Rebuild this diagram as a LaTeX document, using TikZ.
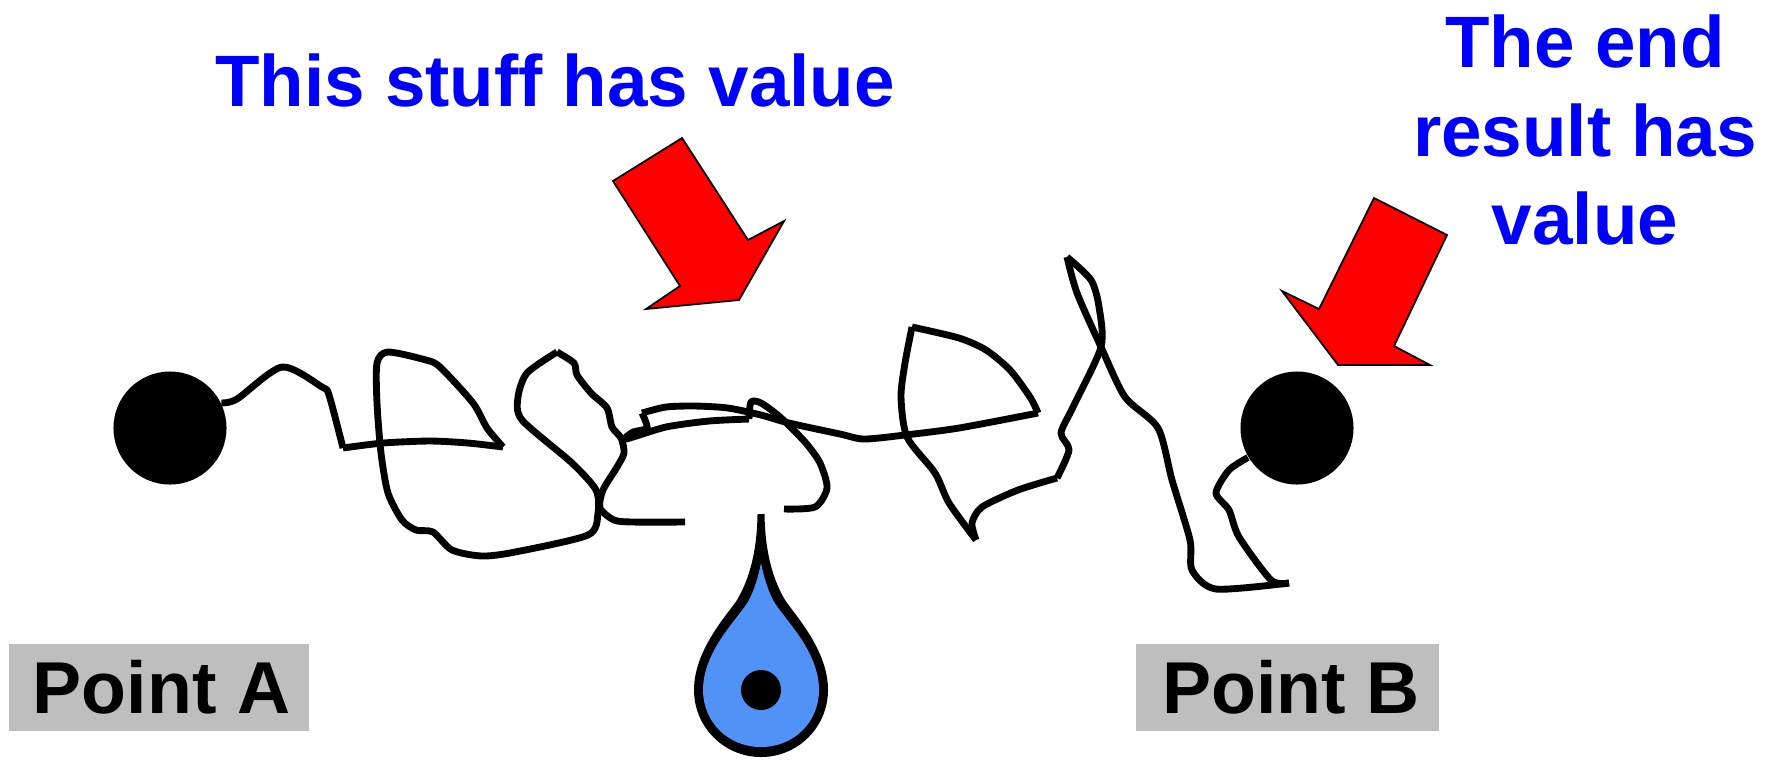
\documentclass[tikz,border=0pt]{standalone}
\usepackage{fontspec}
\setmainfont{Liberation Sans}
\usetikzlibrary{positioning}
\definecolor{dropblue}{HTML}{5092F6}
\definecolor{labelgrey}{HTML}{BEBEBE}
\definecolor{calloutblue}{HTML}{0000FF}

\begin{document}
\begin{tikzpicture}[x=0.01cm,y=-0.01cm,
 ball/.style={circle,fill=black,inner sep=0pt,minimum size=1.13cm},
 callout/.style={text=calloutblue,align=center,inner sep=0pt,font=\fontsize{20.7}{25.2}\selectfont\bfseries},
 ptlabel/.style={fill=labelgrey,text=black,inner sep=0pt,minimum height=0.87cm,font=\fontsize{20.9}{25}\selectfont\bfseries},
 redarrow/.style={draw=black,fill=red,line width=0.5pt,line join=miter},
 wire/.style={draw=black,line width=1.95pt,line join=round,line cap=butt}]
\useasboundingbox (0,0) rectangle (1777,759);
\node[ball] (pointa) at (170,428) {};
\node[ball] (pointb) at (1297,428) {};
\node[callout] (stuff) at (555,80) {This stuff has value};
\node[callout] (endresult) at (1585,130) {The end\\result has\\value};
\node[ptlabel,minimum width=3.0cm] (labela) at (159,687.5) {\hspace{0.5mm}Point A};
\node[ptlabel,minimum width=3.03cm] (labelb) at (1287.5,687.5) {\hspace{0.7mm}Point B};
% red arrows
\draw[redarrow] (682,138)--(748,240)--(784,221)--(739,300)--(646,309)--(680,286)--(613,181)--cycle;
\draw[redarrow] (1374,198)--(1447,235)--(1394,346)--(1430,365)--(1338,365)--(1282,291)--(1319,309)--cycle;
% wire, point A up to the gap
\draw[wire] plot[smooth,tension=0.45] coordinates {(pointa.26) (237,399) (282,367) (322,387) (329,395) (343,448)};
\draw[wire] plot[smooth,tension=0.45] coordinates {(343,448) (383,443) (430,441) (468,443) (503,447)};
\draw[wire] plot[smooth,tension=0.45] coordinates {(503,447) (487,428) (473,403) (440,367) (426,360) (388,352) (377,363) (377,403) (381,453) (388,493) (402,520) (416,530) (433,532) (452,550) (482,556) (515,552) (588,535) (598,513) (596,490) (572,463) (522,420) (518,397) (527,373) (557,352)};
\draw[wire] plot[smooth,tension=0.45] coordinates {(557,352) (574,363) (577,375) (591,393) (607,408) (612,427) (621,438) (624,453) (617,467) (603,490) (600,508) (614,520) (633,522) (685,522)};
% wire, gap up to point B
\draw[wire] plot[smooth,tension=0.45] coordinates {(784,509) (815,507) (827,488) (820,463) (805,442) (780,417) (761,403) (751,402) (749,419)};
\draw[wire] plot[smooth,tension=0.45] coordinates {(749,419) (709,421) (666,427) (626,439) (633,432) (647,428) (642,413)};
\draw[wire] plot[smooth,tension=0.45] coordinates {(642,413) (666,407) (695,406) (728,408) (761,415) (789,423) (840,434) (864,439) (905,435) (959,428) (1038,413)};
\draw[wire] plot[smooth,tension=0.45] coordinates {(1038,413) (1030,397) (1010,370) (986,350) (959,338) (912,327)};
\draw[wire] plot[smooth,tension=0.45] coordinates {(912,327) (905,363) (901,397) (907,437) (935,473) (949,503) (976,540)};
\draw[wire] plot[smooth,tension=0.45] coordinates {(976,540) (972,523) (982,507) (1018,490) (1057,478)};
\draw[wire] plot[smooth,tension=0.45] coordinates {(1057,478) (1069,450) (1061,433) (1073,407) (1101,347) (1099,307) (1091,280) (1067,257)};
\draw[wire] plot[smooth,tension=0.45] coordinates {(1067,257) (1077,293) (1101,347) (1125,397) (1158,428) (1172,480) (1190,540) (1192,570) (1216,589) (1289,583)};
\draw[wire] plot[smooth,tension=0.45] coordinates {(1289,583) (1271,580) (1239,537) (1229,510) (1216,493) (1229,470) (pointb.211)};
% the drop
\fill[black] (757.5,514) -- (764.5,514) .. controls (765,550) and (772,578) .. (785,600) .. controls (795,615) and (828,650) .. (828,690) .. controls (828,727) and (798,757) .. (761,757) .. controls (724,757) and (694,727) .. (694,690) .. controls (694,650) and (727,615) .. (737,600) .. controls (750,578) and (757,550) .. (757.5,514) -- cycle;
\fill[dropblue] (761,563) .. controls (764,578) and (768,590) .. (773,600) .. controls (783,618) and (819,650) .. (819,690) .. controls (819,722) and (794,747) .. (761,747) .. controls (728,747) and (703,722) .. (703,690) .. controls (703,650) and (739,618) .. (749,600) .. controls (754,590) and (758,578) .. (761,563) -- cycle;
\node[circle,fill=black,inner sep=0pt,minimum size=0.4cm] (dropdot) at (761,690) {};
\end{tikzpicture}
\end{document}
